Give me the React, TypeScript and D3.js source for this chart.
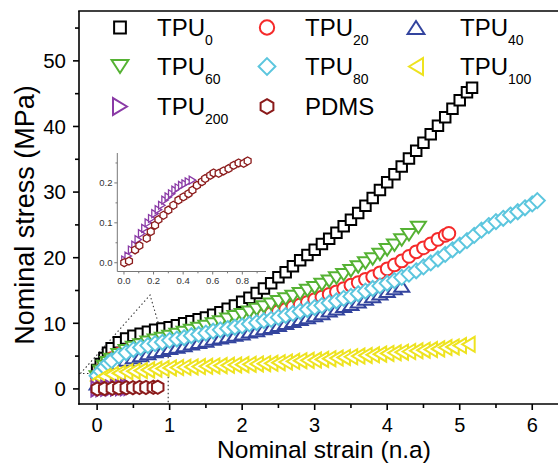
import React from 'react';
import * as d3 from 'd3';

const W = 558;
const H = 463;
const FONT = 'Liberation Sans, Arial, Helvetica, sans-serif';

// ---------- data (nominal strain, nominal stress MPa) ----------
const tpu0: [number, number][] = [
  [0, 2.9], [0.05, 3.8], [0.1, 4.7], [0.15, 5.5], [0.2, 6.2], [0.3, 7.1], [0.4, 7.7], [0.5, 8.1], [0.6, 8.4], [0.7, 8.7],
  [0.8, 9.0], [0.9, 9.2], [1.0, 9.4], [1.1, 9.7], [1.2, 10.0], [1.3, 10.3], [1.4, 10.6], [1.5, 10.9], [1.6, 11.3], [1.7, 11.7],
  [1.8, 12.2], [1.9, 12.7], [2.0, 13.3], [2.1, 13.9], [2.2, 14.6], [2.3, 15.3], [2.4, 16.1], [2.5, 17.0], [2.6, 17.8], [2.7, 18.7],
  [2.8, 19.6], [2.9, 20.4], [3.0, 21.2], [3.1, 22.1], [3.2, 22.9], [3.3, 23.8], [3.4, 24.8], [3.5, 25.8], [3.6, 26.8], [3.7, 27.9],
  [3.8, 29.1], [3.9, 30.3], [4.0, 31.5], [4.1, 32.7], [4.2, 33.9], [4.3, 35.1], [4.4, 36.3], [4.5, 37.5], [4.6, 38.8], [4.7, 40.1],
  [4.8, 41.4], [4.9, 42.7], [5.0, 44.0], [5.1, 45.2], [5.17, 45.9],
];
const tpu20: [number, number][] = [
  [0, 1.9], [0.05, 2.8], [0.1, 3.5], [0.15, 4.1], [0.2, 4.6], [0.3, 5.3], [0.4, 5.8], [0.5, 6.2], [0.6, 6.6], [0.7, 6.9],
  [0.8, 7.2], [0.9, 7.5], [1.0, 7.7], [1.1, 8.0], [1.2, 8.2], [1.3, 8.5], [1.4, 8.7], [1.5, 9.0], [1.6, 9.2], [1.7, 9.5],
  [1.8, 9.8], [1.9, 10.0], [2.0, 10.3], [2.1, 10.6], [2.2, 10.9], [2.3, 11.2], [2.4, 11.5], [2.5, 11.8], [2.6, 12.1], [2.7, 12.5],
  [2.8, 12.8], [2.9, 13.2], [3.0, 13.6], [3.1, 14.0], [3.2, 14.4], [3.3, 14.8], [3.4, 15.3], [3.5, 15.8], [3.6, 16.2], [3.7, 16.7],
  [3.8, 17.1], [3.9, 17.7], [4.0, 18.3], [4.1, 18.9], [4.2, 19.5], [4.3, 20.2], [4.4, 20.9], [4.5, 21.5], [4.6, 22.1], [4.7, 22.8],
  [4.8, 23.4], [4.85, 23.7],
];
const tpu40: [number, number][] = [
  [0, 0.8], [0.05, 1.6], [0.1, 2.2], [0.15, 2.8], [0.2, 3.2], [0.3, 3.9], [0.4, 4.4], [0.5, 4.8], [0.6, 5.1], [0.7, 5.4],
  [0.8, 5.7], [0.9, 5.9], [1.0, 6.2], [1.1, 6.4], [1.2, 6.6], [1.3, 6.9], [1.4, 7.1], [1.5, 7.3], [1.6, 7.6], [1.7, 7.8],
  [1.8, 8.0], [1.9, 8.2], [2.0, 8.4], [2.1, 8.7], [2.2, 8.9], [2.3, 9.2], [2.4, 9.4], [2.5, 9.7], [2.6, 10.0], [2.7, 10.3],
  [2.8, 10.6], [2.9, 10.9], [3.0, 11.2], [3.1, 11.5], [3.2, 11.9], [3.3, 12.2], [3.4, 12.6], [3.5, 12.9], [3.6, 13.3], [3.7, 13.7],
  [3.8, 14.1], [3.9, 14.5], [4.0, 14.9], [4.1, 15.3], [4.2, 15.7],
];
const tpu60: [number, number][] = [
  [0, 1.8], [0.05, 2.7], [0.1, 3.4], [0.15, 4.0], [0.2, 4.5], [0.3, 5.2], [0.4, 5.8], [0.5, 6.3], [0.6, 6.7], [0.7, 7.1],
  [0.8, 7.4], [0.9, 7.7], [1.0, 8.0], [1.1, 8.3], [1.2, 8.6], [1.3, 8.9], [1.4, 9.2], [1.5, 9.5], [1.6, 9.9], [1.7, 10.2],
  [1.8, 10.6], [1.9, 11.0], [2.0, 11.3], [2.1, 11.7], [2.2, 12.1], [2.3, 12.5], [2.4, 12.9], [2.5, 13.3], [2.6, 13.7], [2.7, 14.1],
  [2.8, 14.5], [2.9, 15.0], [3.0, 15.4], [3.1, 15.9], [3.2, 16.4], [3.3, 16.9], [3.4, 17.4], [3.5, 18.0], [3.6, 18.6], [3.7, 19.2],
  [3.8, 19.8], [3.9, 20.5], [4.0, 21.2], [4.1, 21.9], [4.2, 22.7], [4.3, 23.5], [4.43, 24.6],
];
const tpu80: [number, number][] = [
  [0, 2.0], [0.05, 2.7], [0.1, 3.3], [0.15, 3.9], [0.2, 4.3], [0.3, 5.0], [0.4, 5.5], [0.5, 6.0], [0.6, 6.3], [0.7, 6.6],
  [0.8, 6.9], [0.9, 7.1], [1.0, 7.4], [1.1, 7.6], [1.2, 7.8], [1.3, 8.1], [1.4, 8.3], [1.5, 8.5], [1.6, 8.8], [1.7, 9.0],
  [1.8, 9.2], [1.9, 9.4], [2.0, 9.6], [2.1, 9.9], [2.2, 10.1], [2.3, 10.4], [2.4, 10.6], [2.5, 10.9], [2.6, 11.2], [2.7, 11.5],
  [2.8, 11.8], [2.9, 12.1], [3.0, 12.4], [3.1, 12.7], [3.2, 13.1], [3.3, 13.4], [3.4, 13.8], [3.5, 14.1], [3.6, 14.5], [3.7, 14.9],
  [3.8, 15.3], [3.9, 15.7], [4.0, 16.1], [4.1, 16.5], [4.2, 17.0], [4.3, 17.5], [4.4, 18.0], [4.5, 18.6], [4.6, 19.2], [4.7, 19.8],
  [4.8, 20.5], [4.9, 21.2], [5.0, 21.9], [5.1, 22.6], [5.2, 23.4], [5.3, 24.2], [5.4, 24.9], [5.5, 25.5], [5.6, 26.0], [5.7, 26.5],
  [5.8, 27.0], [5.9, 27.6], [6.0, 28.2], [6.07, 28.7],
];
const tpu100: [number, number][] = [
  [0, 1.2], [0.05, 1.6], [0.1, 1.9], [0.2, 2.2], [0.3, 2.4], [0.4, 2.6], [0.5, 2.7], [0.6, 2.8], [0.7, 2.9], [0.8, 3.0],
  [0.9, 3.1], [1.0, 3.2], [1.1, 3.25], [1.2, 3.3], [1.3, 3.35], [1.4, 3.4], [1.5, 3.45], [1.6, 3.5], [1.7, 3.55], [1.8, 3.6],
  [1.9, 3.65], [2.0, 3.7], [2.1, 3.75], [2.2, 3.8], [2.3, 3.85], [2.4, 3.9], [2.5, 4.0], [2.6, 4.1], [2.7, 4.2], [2.8, 4.3],
  [2.9, 4.35], [3.0, 4.4], [3.1, 4.5], [3.2, 4.6], [3.3, 4.7], [3.4, 4.8], [3.5, 4.9], [3.6, 5.0], [3.7, 5.1], [3.8, 5.2],
  [3.9, 5.3], [4.0, 5.4], [4.1, 5.5], [4.2, 5.6], [4.3, 5.7], [4.4, 5.8], [4.5, 5.9], [4.6, 6.0], [4.7, 6.1], [4.8, 6.3],
  [4.9, 6.4], [5.0, 6.6], [5.12, 6.8],
];
const tpu200: [number, number][] = [
  [0.007, 0.007], [0.029, 0.017], [0.052, 0.032], [0.075, 0.044], [0.097, 0.058], [0.12, 0.073], [0.142, 0.086], [0.165, 0.1],
  [0.188, 0.111], [0.21, 0.123], [0.233, 0.133], [0.256, 0.144], [0.278, 0.157], [0.3, 0.165], [0.323, 0.173], [0.346, 0.182],
  [0.368, 0.188], [0.391, 0.194], [0.414, 0.198], [0.436, 0.203], [0.463, 0.207],
];
const pdms: [number, number][] = [
  [0.002, 0.0], [0.034, 0.004], [0.075, 0.032], [0.104, 0.043], [0.154, 0.061], [0.181, 0.078], [0.21, 0.094], [0.233, 0.108],
  [0.267, 0.119], [0.3, 0.132], [0.334, 0.144], [0.368, 0.157], [0.402, 0.165], [0.436, 0.173], [0.463, 0.182], [0.493, 0.194],
  [0.527, 0.203], [0.549, 0.211], [0.583, 0.219], [0.606, 0.225], [0.64, 0.224], [0.673, 0.23], [0.707, 0.236], [0.741, 0.244],
  [0.775, 0.25], [0.809, 0.249], [0.836, 0.255],
];

const seriesData = [tpu0, tpu20, tpu40, tpu60, tpu80, tpu100, tpu200, pdms];
const seriesBase = ['TPU', 'TPU', 'TPU', 'TPU', 'TPU', 'TPU', 'TPU', 'PDMS'];
const seriesSub = ['0', '20', '40', '60', '80', '100', '200', ''];
const seriesShape = ['square', 'circle', 'triUp', 'triDown', 'diamond', 'triLeft', 'triRight', 'hexagon'];
const seriesColor = ['#000000', '#f52a2a', '#33449e', '#55b233', '#5cc6de', '#eee31f', '#8a3aa6', '#8b1b1b'];

const xTicks = [0, 1, 2, 3, 4, 5, 6];
const xMinor = [0.5, 1.5, 2.5, 3.5, 4.5, 5.5];
const yTicks = [0, 10, 20, 30, 40, 50];
const yMinor = [5, 15, 25, 35, 45, 55];
const insetXTicks = [0.0, 0.2, 0.4, 0.6, 0.8];
const insetXMinor = [0.1, 0.3, 0.5, 0.7, 0.9];
const insetYTicks = [0.0, 0.1, 0.2];
const insetYMinor = [0.05, 0.15, 0.25];

// zoom indicator (dotted) in data coords
const zoomTriangle: [number, number][] = [[-0.23, 2.35], [0.73, 14.3], [0.98, 4.9]];
const zoomBoxX = 0.98;
const zoomBoxY = 2.35;

// ---------- scales ----------
const x = d3.scaleLinear().domain([-0.25, 6.5]).range([79, 568.5]);
const y = d3.scaleLinear().domain([-2.3, 57.6]).range([404, 11]);
const ix = d3.scaleLinear().domain([-0.045, 0.96]).range([117.3, 266]);
const iy = d3.scaleLinear().domain([-0.022, 0.275]).range([271.5, 153]);

function shapePath(shape: string, k: number): string {
  switch (shape) {
    case 'square': {
      const s = 10.5 * k;
      return `M${-s / 2},${-s / 2}h${s}v${s}h${-s}Z`;
    }
    case 'triUp': {
      const w = 15 * k, h = 11.5 * k;
      return `M0,${-h / 2}L${w / 2},${h / 2}L${-w / 2},${h / 2}Z`;
    }
    case 'triDown': {
      const w = 15 * k, h = 11.5 * k;
      return `M0,${h / 2}L${w / 2},${-h / 2}L${-w / 2},${-h / 2}Z`;
    }
    case 'triLeft': {
      const w = 12.5 * k, h = 15 * k;
      return `M${-w / 2},0L${w / 2},${-h / 2}L${w / 2},${h / 2}Z`;
    }
    case 'triRight': {
      const w = 12.5 * k, h = 15 * k;
      return `M${w / 2},0L${-w / 2},${-h / 2}L${-w / 2},${h / 2}Z`;
    }
    case 'diamond': {
      const r = 7.5 * k;
      return `M0,${-r}L${r},0L0,${r}L${-r},0Z`;
    }
    case 'hexagon': {
      const r = 6.6 * k;
      const pts = d3.range(6).map((i) => {
        const a = (Math.PI / 3) * i - Math.PI / 2;
        return `${(r * Math.cos(a)).toFixed(2)},${(r * Math.sin(a)).toFixed(2)}`;
      });
      return `M${pts.join('L')}Z`;
    }
    default:
      return '';
  }
}

function Marker({ shape, color, cx, cy, k = 1, sw = 2 }: { shape: string; color: string; cx: number; cy: number; k?: number; sw?: number }) {
  if (shape === 'circle') {
    return <circle cx={cx} cy={cy} r={6.4 * k} fill="#fff" stroke={color} strokeWidth={sw} />;
  }
  return <path d={shapePath(shape, k)} transform={`translate(${cx},${cy})`} fill="#fff" stroke={color} strokeWidth={sw} strokeLinejoin="miter" />;
}

export default function App() {
  const legendCols = [
    { mx: 120, tx: 157 },
    { mx: 267, tx: 305 },
    { mx: 416, tx: 460 },
  ];
  const legendRows = [36, 75, 115];

  const dotted = { stroke: '#333', strokeWidth: 1.1, strokeDasharray: '1.4,2.6', fill: 'none' } as const;

  return (
    <svg width={W} height={H} style={{ position: 'absolute', left: 0, top: 0, background: '#fff' }} fontFamily={FONT}>
      {/* zoom indicator lines */}
      <path d={d3.line()(zoomTriangle.map(([a, b]) => [x(a), y(b)] as [number, number])) || ''} {...dotted} />
      <line x1={x(zoomBoxX)} x2={x(zoomBoxX)} y1={y(zoomTriangle[2][1])} y2={y(-2.3)} {...dotted} />
      <line x1={x(-0.25)} x2={x(zoomBoxX)} y1={y(zoomBoxY)} y2={y(zoomBoxY)} {...dotted} />

      {/* main series */}
      {seriesData.map((data, si) => {
        const pts = si >= 6 ? data.filter((_, i) => i % 3 === 0 || i === data.length - 1) : data;
        return (
          <g key={si}>
            {pts.map(([a, b], i) => (
              <Marker key={i} shape={seriesShape[si]} color={seriesColor[si]} cx={x(a)} cy={y(b)} />
            ))}
          </g>
        );
      })}

      {/* main axes */}
      <g stroke="#000" strokeWidth={1.6} fill="none">
        <line x1={79} x2={79} y1={11} y2={404.8} />
        <line x1={78.2} x2={W} y1={404} y2={404} />
        <line x1={78.2} x2={W} y1={11} y2={11} />
        {xTicks.map((t) => <line key={'xt' + t} x1={x(t)} x2={x(t)} y1={404} y2={410} />)}
        {xMinor.map((t) => <line key={'xm' + t} x1={x(t)} x2={x(t)} y1={404} y2={408} />)}
        {yTicks.map((t) => <line key={'yt' + t} x1={79} x2={73} y1={y(t)} y2={y(t)} />)}
        {yMinor.map((t) => <line key={'ym' + t} x1={79} x2={75} y1={y(t)} y2={y(t)} />)}
      </g>
      <g fontSize={20.5} fill="#000">
        {xTicks.map((t) => (
          <text key={'xl' + t} x={x(t)} y={431.5} fontSize={20} textAnchor="middle">{t}</text>
        ))}
        {yTicks.map((t) => (
          <text key={'yl' + t} x={66} y={y(t)} dy="0.36em" textAnchor="end">{t}</text>
        ))}
      </g>
      <text x={324} y={457.5} fontSize={24.5} textAnchor="middle">Nominal strain (n.a)</text>
      <text transform={`translate(33.5,215) rotate(-90)`} fontSize={27} textAnchor="middle">Nominal stress (MPa)</text>

      {/* legend */}
      {seriesBase.map((base, si) => {
        const col = legendCols[si % 3];
        const row = legendRows[Math.floor(si / 3)];
        return (
          <g key={'lg' + si}>
            <Marker shape={seriesShape[si]} color={seriesColor[si]} cx={col.mx} cy={row - 8.5} k={1.12} />
            <text x={col.tx} y={row} fontSize={24}>
              {base}
              {seriesSub[si] && (
                <tspan fontSize={14} dy={9}>{seriesSub[si]}</tspan>
              )}
            </text>
          </g>
        );
      })}

      {/* inset */}
      <g>
        {[6, 7].map((si) => (
          <g key={'in' + si}>
            {seriesData[si].map(([a, b], i) => (
              <Marker key={i} shape={seriesShape[si]} color={seriesColor[si]} cx={ix(a)} cy={iy(b)} k={si === 7 ? 0.6 : 0.52} sw={1.3} />
            ))}
          </g>
        ))}
        <g stroke="#777" strokeWidth={1} fill="none">
          <line x1={ix(-0.045)} x2={ix(-0.045)} y1={153} y2={271.5} />
          <line x1={ix(-0.045)} x2={266} y1={271.5} y2={271.5} />
          {insetYTicks.map((t) => <line key={'iyt' + t} x1={117.3} x2={114.3} y1={iy(t)} y2={iy(t)} />)}
          {insetYMinor.map((t) => <line key={'iym' + t} x1={117.3} x2={115.5} y1={iy(t)} y2={iy(t)} />)}
          {insetXTicks.map((t) => <line key={'ixt' + t} x1={ix(t)} x2={ix(t)} y1={271.5} y2={274.5} />)}
          {insetXMinor.map((t) => <line key={'ixm' + t} x1={ix(t)} x2={ix(t)} y1={271.5} y2={273.3} />)}
        </g>
        <g fontSize={9.5} fill="#333">
          {insetYTicks.map((t) => (
            <text key={'iyl' + t} x={112.5} y={iy(t)} dy="0.35em" textAnchor="end">{t.toFixed(1)}</text>
          ))}
          {insetXTicks.map((t) => (
            <text key={'ixl' + t} x={ix(t)} y={284} textAnchor="middle">{t.toFixed(1)}</text>
          ))}
        </g>
      </g>
    </svg>
  );
}
